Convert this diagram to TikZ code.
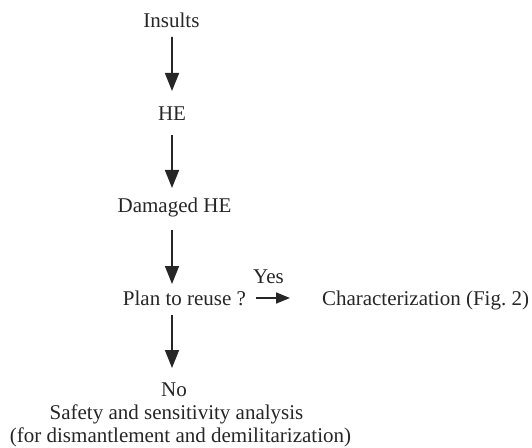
\documentclass[tikz,border=0pt]{standalone}
\usepackage{fontspec}
\setmainfont{Liberation Serif}
\usetikzlibrary{arrows.meta,calc}
\begin{document}
\begin{tikzpicture}[x=1bp,y=-1bp,
  lbl/.style={inner sep=0pt, outer sep=0pt, anchor=base, font=\fontsize{21bp}{25bp}\selectfont, text=black!85},
  varr/.style={line width=1.6bp, draw=black!85, -{Triangle[length=18bp,width=14bp]}},
  harr/.style={line width=1.6bp, draw=black!85, -{Triangle[length=14bp,width=11bp]}}]
\useasboundingbox (0,0) rectangle (532,448);
\node[lbl] (ins)  at (171.5,28) {Insults};
\node[lbl] (he)   at (172,121) {HE};
\node[lbl] (dam)  at (174.5,213) {Damaged HE};
\node[lbl] (plan) at (184.5,305) {Plan to reuse ?};
\node[lbl] (char) at (425.5,305) {Characterization (Fig.~2)};
\node[lbl] (yes)  at (268.5,283) {Yes};
\node[lbl] (no)   at (174,396) {No};
\node[lbl] (saf)  at (176.5,419) {Safety and sensitivity analysis};
\node[lbl] (dis)  at (180.5,442) {(for dismantlement and demilitarization)};
\draw[varr] ($(ins.base)+(0.5,9)$) -- ($(he.base)+(0,-30)$);
\draw[varr] ($(he.base)+(0,14)$) -- ($(dam.base)+(-2.5,-25)$);
\draw[varr] ($(dam.base)+(-2.5,17)$) -- ($(plan.base)+(-12.5,-21)$);
\draw[varr] ($(plan.base)+(-12.5,10)$) -- ($(no.base)+(-2,-28)$);
\draw[harr] ($(plan.base east)+(10,-7)$) -- ($(char.base west)+(-32,-7)$);
\end{tikzpicture}
\end{document}
